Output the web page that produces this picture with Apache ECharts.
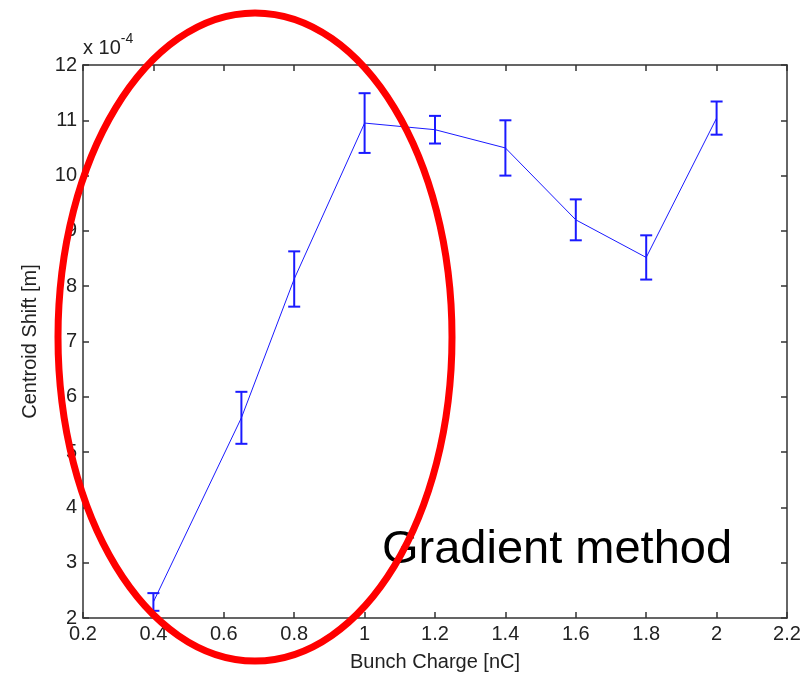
<!DOCTYPE html>
<html>
<head>
<meta charset="utf-8">
<script src="https://cdn.jsdelivr.net/npm/echarts@6/dist/echarts.min.js"></script>
<style>
  html, body { margin: 0; padding: 0; background: #fff; }
  #chart { width: 810px; height: 677px; }
</style>
</head>
<body>
<div id="chart"></div>
<script>
// Bunch charge [nC]
const charge = [0.4, 0.65, 0.8, 1.0, 1.2, 1.4, 1.6, 1.8, 2.0];
// Centroid shift, in units of 1e-4 m
const shift = [2.29, 5.62, 8.13, 10.95, 10.83, 10.5, 9.2, 8.52, 11.04];
// Half-width of each error bar, same units
const shiftErr = [0.16, 0.47, 0.5, 0.54, 0.25, 0.5, 0.37, 0.4, 0.3];

const xTicks = { min: 0.2, max: 2.2, step: 0.2 };
const yTicks = { min: 2, max: 12, step: 1 };

const FONT = "'Liberation Sans', Arial, Helvetica, sans-serif";
const AXIS_COLOR = '#333';
const TEXT_COLOR = '#222';
const BLUE = '#1a1aff';

const linePoints = charge.map((c, i) => [c, shift[i]]);
const barPoints = charge.map((c, i) => [c, shift[i] - shiftErr[i], shift[i] + shiftErr[i]]);

function fmt(v) { return String(parseFloat(v.toFixed(2))); }

const chart = echarts.init(document.getElementById('chart'));

const axisCommon = {
  type: 'value',
  axisLine: { show: true, onZero: false, lineStyle: { color: AXIS_COLOR, width: 1.5 } },
  axisTick: { show: true, inside: true, length: 6, lineStyle: { color: AXIS_COLOR, width: 1.5 } },
  splitLine: { show: false }
};

chart.setOption({
  animation: false,
  backgroundColor: '#fff',
  grid: { left: 83, top: 65, right: 23, bottom: 58, containLabel: false },
  xAxis: [
    Object.assign({}, axisCommon, {
      position: 'bottom',
      min: xTicks.min, max: xTicks.max, interval: xTicks.step,
      name: 'Bunch Charge [nC]',
      nameLocation: 'middle',
      nameGap: 34,
      nameTextStyle: { fontFamily: FONT, fontSize: 20, color: TEXT_COLOR },
      axisLabel: { fontFamily: FONT, fontSize: 20, color: TEXT_COLOR, margin: 6, formatter: fmt }
    }),
    Object.assign({}, axisCommon, {
      position: 'top',
      min: xTicks.min, max: xTicks.max, interval: xTicks.step,
      axisLabel: { show: false }
    })
  ],
  yAxis: [
    Object.assign({}, axisCommon, {
      position: 'left',
      min: yTicks.min, max: yTicks.max, interval: yTicks.step,
      name: 'Centroid Shift [m]',
      nameLocation: 'middle',
      nameGap: 43,
      nameRotate: 90,
      nameTextStyle: { fontFamily: FONT, fontSize: 20, color: TEXT_COLOR },
      axisLabel: { fontFamily: FONT, fontSize: 20, color: TEXT_COLOR, margin: 6, formatter: fmt }
    }),
    Object.assign({}, axisCommon, {
      position: 'right',
      min: yTicks.min, max: yTicks.max, interval: yTicks.step,
      axisLabel: { show: false }
    })
  ],
  series: [
    {
      type: 'line',
      data: linePoints,
      xAxisIndex: 0, yAxisIndex: 0,
      symbol: 'none',
      lineStyle: { color: BLUE, width: 1 },
      z: 3
    },
    {
      type: 'custom',
      data: barPoints,
      xAxisIndex: 0, yAxisIndex: 0,
      z: 4,
      renderItem: function (params, api) {
        const x = api.value(0);
        const lo = api.coord([x, api.value(1)]);
        const hi = api.coord([x, api.value(2)]);
        const half = 6;
        const style = { stroke: BLUE, lineWidth: 2 };
        return {
          type: 'group',
          children: [
            { type: 'line', shape: { x1: lo[0], y1: lo[1], x2: hi[0], y2: hi[1] }, style: style },
            { type: 'line', shape: { x1: lo[0] - half, y1: lo[1], x2: lo[0] + half, y2: lo[1] }, style: style },
            { type: 'line', shape: { x1: hi[0] - half, y1: hi[1], x2: hi[0] + half, y2: hi[1] }, style: style }
          ]
        };
      }
    }
  ],
  graphic: [
    {
      type: 'text',
      left: 83, top: 32,
      z: 10,
      style: {
        text: '{b|x 10}{s|-4}',
        rich: {
          b: { fontFamily: FONT, fontSize: 20, fill: TEXT_COLOR, verticalAlign: 'bottom', lineHeight: 26 },
          s: { fontFamily: FONT, fontSize: 14, fill: TEXT_COLOR, verticalAlign: 'top', lineHeight: 26 }
        }
      }
    },
    {
      type: 'text',
      x: 382, y: 550,
      z: 20,
      style: {
        text: 'Gradient method',
        fontFamily: FONT,
        fontSize: 47,
        fill: '#000',
        verticalAlign: 'middle',
        align: 'left'
      }
    },
    {
      type: 'ellipse',
      z: 30,
      shape: { cx: 255, cy: 337, rx: 197, ry: 324 },
      style: { fill: 'none', stroke: '#ff0000', lineWidth: 7 }
    }
  ]
});
</script>
</body>
</html>
